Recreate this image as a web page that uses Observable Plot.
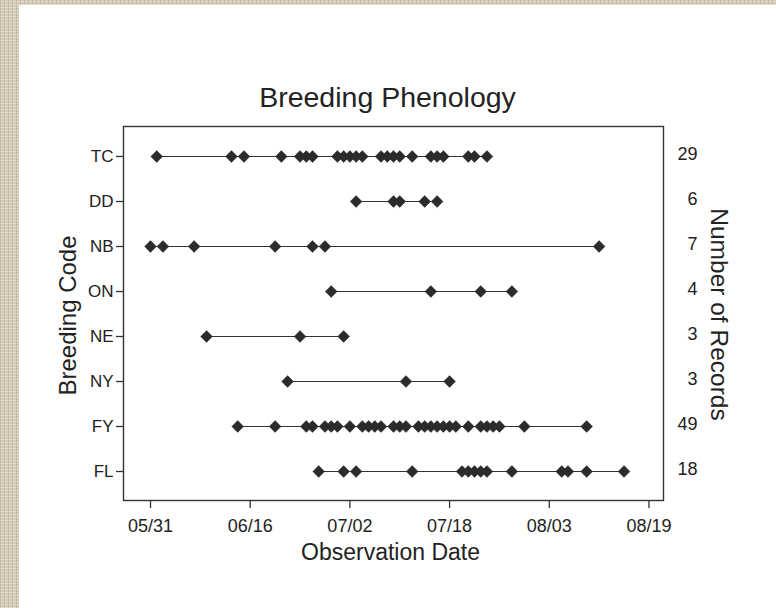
<!DOCTYPE html>
<html>
<head>
<meta charset="utf-8">
<script src="https://cdn.jsdelivr.net/npm/d3@7"></script>
<script src="https://cdn.jsdelivr.net/npm/@observablehq/plot@0.6"></script>
<style>
  html, body { margin: 0; padding: 0; }
  #page {
    position: absolute; left: 0; top: 0; width: 776px; height: 608px; overflow: hidden;
    background-color: #d3cab8;
    background-image:
      repeating-linear-gradient(0deg, rgba(255,255,255,0.3) 0 1px, rgba(0,0,0,0) 1px 3px),
      repeating-linear-gradient(90deg, rgba(120,105,80,0.22) 0 1px, rgba(0,0,0,0) 1px 4px);
  }
  #sheet { position: absolute; left: 19px; top: 5px; right: 0; bottom: 0; background: #ffffff; }
  #chart { position: absolute; left: 0; top: 0; }
</style>
</head>
<body>
<div id="page"><div id="sheet"></div><div id="chart"></div></div>
<script>
const YEAR = 2008;
const codes = ["TC", "DD", "NB", "ON", "NE", "NY", "FY", "FL"];
const recordCounts = [29, 6, 7, 4, 3, 3, 49, 18];
const xTickLabels = ["05/31", "06/16", "07/02", "07/18", "08/03", "08/19"];

const tcDates = ["06/01","06/13","06/15","06/21","06/24","06/25","06/26","06/30","07/01","07/02","07/03","07/04","07/07","07/08","07/09","07/10","07/12","07/15","07/16","07/17","07/21","07/22","07/24"];
const ddDates = ["07/03","07/09","07/10","07/14","07/16"];
const nbDates = ["05/31","06/02","06/07","06/20","06/26","06/28","08/11"];
const onDates = ["06/29","07/15","07/23","07/28"];
const neDates = ["06/09","06/24","07/01"];
const nyDates = ["06/22","07/11","07/18"];
const fyDates = ["06/14","06/20","06/25","06/26","06/28","06/29","06/30","07/02","07/04","07/05","07/06","07/07","07/09","07/10","07/11","07/13","07/14","07/15","07/16","07/17","07/18","07/19","07/21","07/23","07/24","07/25","07/26","07/30","08/09"];
const flDates = ["06/27","07/01","07/03","07/12","07/20","07/21","07/22","07/23","07/24","07/28","08/05","08/06","08/09","08/15"];

const parse = s => new Date(Date.UTC(YEAR, +s.slice(0, 2) - 1, +s.slice(3, 5)));
const series = [tcDates, ddDates, nbDates, onDates, neDates, nyDates, fyDates, flDates];
const data = [];
series.forEach((arr, i) => arr.forEach(s => data.push({code: codes[i], date: parse(s)})));

const xTicks = xTickLabels.map(parse);
const fmt = d3.utcFormat("%m/%d");
const xDomain = [new Date(Date.UTC(YEAR, 4, 26, 16)), new Date(Date.UTC(YEAR, 7, 21, 8))];

const ink = "#222";
const chart = Plot.plot({
  width: 776,
  height: 608,
  marginLeft: 123,
  marginRight: 113,
  marginTop: 126,
  marginBottom: 108,
  style: {background: "transparent", fontFamily: "'Liberation Sans', Arial, sans-serif", color: ink},
  x: {type: "utc", domain: xDomain},
  y: {type: "point", domain: codes, padding: 0.59},
  marks: [
    Plot.frame({stroke: "#333", strokeWidth: 1.4}),
    Plot.axisX({ticks: xTicks, tickFormat: fmt, tickSize: 8, tickPadding: 11, fontSize: 18, label: null, stroke: "#333", strokeWidth: 1.3}),
    Plot.axisY({tickSize: 7, tickPadding: 3, fontSize: 17, label: null, stroke: "#333", strokeWidth: 1.3}),
    Plot.line(data, {x: "date", y: "code", z: "code", stroke: "#333", strokeWidth: 1.2}),
    Plot.dot(data, {x: "date", y: "code", symbol: "diamond2", r: 5.3, fill: "#2b2b2b", stroke: "#2b2b2b", strokeWidth: 0.5}),
    Plot.text(codes, {y: codes, text: recordCounts, frameAnchor: "right", dx: 34, dy: -2, textAnchor: "end", fontSize: 18, fill: ink}),
    Plot.text(["Breeding Phenology"], {frameAnchor: "top", dx: -6, dy: -29, textAnchor: "middle", lineAnchor: "middle", fontSize: 28.5, fill: ink}),
    Plot.text(["Observation Date"], {frameAnchor: "bottom", dx: -3, dy: 52, textAnchor: "middle", lineAnchor: "middle", fontSize: 23, fill: ink}),
    Plot.text(["Breeding Code"], {frameAnchor: "left", dx: -55, dy: 2, rotate: -90, textAnchor: "middle", lineAnchor: "middle", fontSize: 24, fill: ink}),
    Plot.text(["Number of Records"], {frameAnchor: "right", dx: 55, dy: 1, rotate: 90, textAnchor: "middle", lineAnchor: "middle", fontSize: 24.5, fill: ink})
  ]
});
document.getElementById("chart").appendChild(chart);
</script>
</body>
</html>
